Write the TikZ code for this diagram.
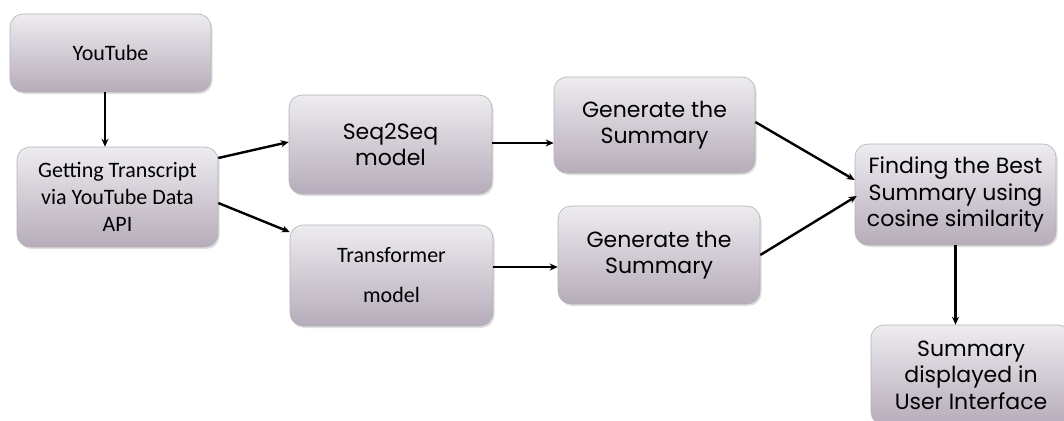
\documentclass[tikz,border=0pt]{standalone}
\usepackage{fontspec}
\setmainfont{Carlito}
\newfontfamily\gothic{Poppins}
\usetikzlibrary{arrows.meta,shadows}

\begin{document}
\begin{tikzpicture}[x=1pt, y=-1pt,
        box/.style={rounded corners=13pt, draw=black!30, line width=0.6pt,
            top color=boxtop, bottom color=boxbot, align=center,
            inner sep=0pt, font=\fontsize{22}{27}\selectfont,
            drop shadow={shadow xshift=1.5pt, shadow yshift=-2pt, opacity=0.25}},
        gbox/.style={box, font=\gothic\fontsize{22}{26.5}\selectfont},
        arr/.style={-{Stealth[length=8pt,width=7pt]}, line width=2.4pt}]
    \definecolor{boxtop}{HTML}{EEECF0}
    \definecolor{boxbot}{HTML}{B6ACBA}
    \useasboundingbox (0,0) rectangle (1064,420);

    \node[box, minimum width=201pt, minimum height=78pt] (yt) at (110.5,53) {YouTube};
    \node[box, minimum width=201pt, minimum height=100pt] (tr) at (117.5,197)
        {Getting Transcript\\via YouTube Data\\API};

    \node[gbox, minimum width=203pt, minimum height=99pt] (s2s) at (390.5,144.5) {Seq2Seq\\model};
    \node[box, minimum width=203pt, minimum height=101pt] (tf) at (391.5,275.5) {Transformer\\[13pt]model};

    \node[gbox, minimum width=201pt, minimum height=96pt] (g1) at (654.5,125) {Generate the\\Summary};
    \node[gbox, minimum width=202pt, minimum height=98pt] (g2) at (659,255) {Generate the\\Summary};

    \node[gbox, minimum width=201pt, minimum height=101pt] (best) at (955.5,194.5)
        {Finding the Best\\Summary using\\cosine similarity};
    \node[gbox, minimum width=200pt, minimum height=100pt] (ui) at (971,375)
        {Summary\\displayed in\\User Interface};

    \draw[arr] ([xshift=-5.5pt]yt.south) -- ([xshift=-12.5pt]tr.north);
    \draw[arr] ([yshift=39pt]tr.east) -- ([yshift=2.5pt]s2s.west);
    \draw[arr] ([yshift=-6pt]tr.east) -- ([yshift=43.5pt]tf.west);
    \draw[arr] ([yshift=1.5pt]s2s.east) -- ([yshift=-18pt]g1.west);
    \draw[arr] ([yshift=8.5pt]tf.east) -- ([yshift=-12pt]g2.west);
    \draw[arr] ([yshift=3pt]g1.east) -- ([yshift=14.5pt]best.west);
    \draw[arr] (g2.east) -- ([yshift=-1.5pt, xshift=2pt]best.west);
    \draw[arr] (best.south) -- (best.south |- ui.north);
\end{tikzpicture}
\end{document}
